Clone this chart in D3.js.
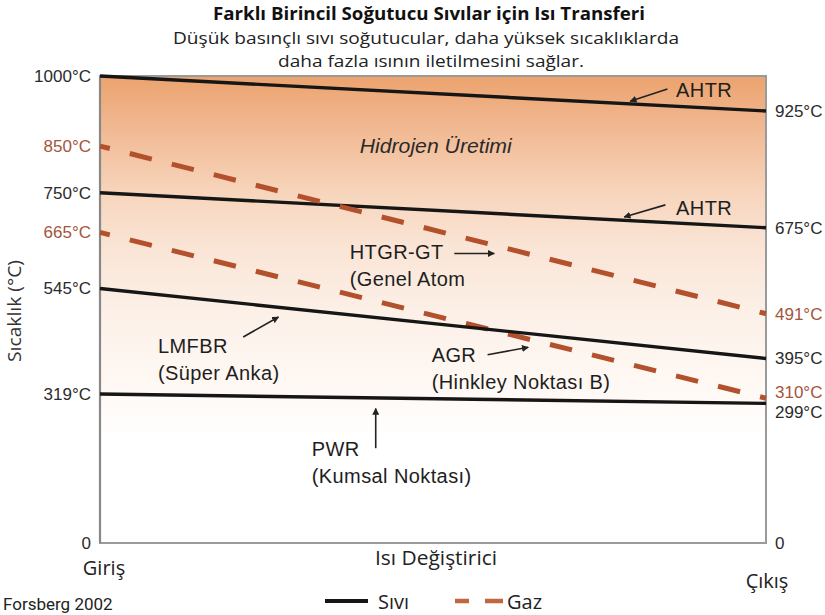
<!DOCTYPE html>
<html>
<head>
<meta charset="utf-8">
<script src="https://cdn.jsdelivr.net/npm/d3@7"></script>
<style>
  body { margin: 0; background: #fff; }
  svg { display: block; }
</style>
</head>
<body>
<div id="chart"></div>
<script>
// heat exchanger ends
const stages = ["Giriş", "Çıkış"];

// one entry per reactor line
const reactors = ["AHTR", "AHTR", "HTGR-GT", "AGR", "LMFBR", "PWR"];
const inletC = [1000, 750, 850, 665, 545, 319];
const outletC = [925, 675, 491, 310, 395, 299];
const coolant = ["Sıvı", "Sıvı", "Gaz", "Gaz", "Sıvı", "Sıvı"];

const legendItems = ["Sıvı", "Gaz"];

const width = 825;
const height = 615;
const plot = { left: 100, right: 766, top: 76, bottom: 543 };

const liquidColor = "#161616";
const gasColor = "#b4512d";
const gasText = "#a4553c";

const svg = d3.select("#chart")
    .append("svg")
    .attr("width", width)
    .attr("height", height)
    .style("font-family", "'Liberation Sans', Arial, sans-serif");

const x = d3.scalePoint().domain(stages).range([plot.left, plot.right]);
const xf = d3.scaleLinear().domain([0, 1]).range([plot.left, plot.right]); // position along exchanger
const y = d3.scaleLinear().domain([0, 1000]).range([plot.bottom, plot.top]);

const defs = svg.append("defs");

// warm background, fading out towards lower temperatures
const grad = defs.append("linearGradient")
    .attr("id", "heat")
    .attr("gradientUnits", "userSpaceOnUse")
    .attr("x1", 0).attr("x2", 0)
    .attr("y1", y(1000)).attr("y2", y(0));
[[0, "#eca36e"], [0.07, "#efb085"], [0.25, "#f7d5bc"], [0.37, "#fae5d6"],
 [0.52, "#fcf1e9"], [0.68, "#fff9f5"], [0.78, "#ffffff"]].forEach(s => {
    grad.append("stop").attr("offset", s[0]).attr("stop-color", s[1]);
});

defs.append("marker")
    .attr("id", "arrow")
    .attr("viewBox", "0 0 10 10")
    .attr("refX", 9).attr("refY", 5)
    .attr("markerWidth", 7).attr("markerHeight", 7)
    .attr("markerUnits", "userSpaceOnUse")
    .attr("orient", "auto")
    .append("path")
    .attr("d", "M0,0 L10,5 L0,10 Z")
    .attr("fill", "#222");

svg.append("rect")
    .attr("x", plot.left).attr("y", plot.top)
    .attr("width", plot.right - plot.left)
    .attr("height", plot.bottom - plot.top)
    .attr("fill", "url(#heat)")
    .attr("stroke", "#9a9a9a")
    .attr("stroke-width", 2);

svg.append("line")
    .attr("x1", plot.left).attr("x2", plot.left)
    .attr("y1", plot.top).attr("y2", plot.bottom)
    .attr("stroke", "#888").attr("stroke-width", 2.2);

// title
svg.append("text")
    .attr("x", 429).attr("y", 20)
    .attr("text-anchor", "middle")
    .attr("textLength", 432).attr("lengthAdjust", "spacingAndGlyphs")
    .style("font-family", "'Open Sans', sans-serif")
    .style("font-weight", "bold").style("font-size", "17px")
    .attr("fill", "#111")
    .text("Farklı Birincil Soğutucu Sıvılar için Isı Transferi");

svg.append("text")
    .attr("x", 426).attr("y", 44)
    .attr("text-anchor", "middle")
    .attr("textLength", 506).attr("lengthAdjust", "spacingAndGlyphs")
    .style("font-family", "'Open Sans', sans-serif").style("font-size", "16.5px")
    .attr("fill", "#222")
    .text("Düşük basınçlı sıvı soğutucular, daha yüksek sıcaklıklarda");

svg.append("text")
    .attr("x", 431).attr("y", 67)
    .attr("text-anchor", "middle")
    .attr("textLength", 306).attr("lengthAdjust", "spacingAndGlyphs")
    .style("font-family", "'Open Sans', sans-serif").style("font-size", "16.5px")
    .attr("fill", "#222")
    .text("daha fazla ısının iletilmesini sağlar.");

// lines
const line = d3.line()
    .x((d, i) => x(stages[i]))
    .y(d => y(d));

const series = reactors.map((r, i) => ({ name: r, values: [inletC[i], outletC[i]], type: coolant[i] }));

svg.append("g")
    .selectAll("path")
    .data(series)
    .enter().append("path")
    .attr("d", d => line(d.values))
    .attr("fill", "none")
    .attr("stroke", d => d.type === "Gaz" ? gasColor : liquidColor)
    .attr("stroke-width", d => d.type === "Gaz" ? 5 : 3.4)
    .attr("stroke-dasharray", d => d.type === "Gaz" ? "22.7,20.6" : null)
    .attr("stroke-dashoffset", d => d.type === "Gaz" ? 12.6 : null);

// axes
const fmt = d => d === 0 ? "0" : d + "°C";
const gasTemps = new Set(series.filter(s => s.type === "Gaz").flatMap(s => s.values));

const leftAxis = svg.append("g")
    .attr("transform", `translate(${plot.left},0)`)
    .call(d3.axisLeft(y).tickValues([0, ...inletC]).tickSize(0).tickPadding(9).tickFormat(fmt));

const rightAxis = svg.append("g")
    .attr("transform", `translate(${plot.right},0)`)
    .call(d3.axisRight(y).tickValues([0, ...outletC]).tickSize(0).tickPadding(9).tickFormat(fmt));

[leftAxis, rightAxis].forEach(ax => {
    ax.select(".domain").remove();
    ax.selectAll("text")
        .style("font-size", "17px")
        .style("font-family", "'Liberation Sans', Arial, sans-serif")
        .attr("fill", d => gasTemps.has(d) ? gasText : "#2b2b2b");
});

// spread right-side labels that sit too close (310 / 299)
const minGap = 19.5;
const rTicks = rightAxis.selectAll(".tick").nodes()
    .map(n => ({ n, yy: y(d3.select(n).datum()) }))
    .sort((a, b) => a.yy - b.yy);
for (let i = 1; i < rTicks.length; i++) {
    const a = rTicks[i - 1], b = rTicks[i];
    const gap = b.yy - a.yy;
    if (gap < minGap) {
        const up = Math.min(6, minGap - gap);
        const down = minGap - gap - up;
        d3.select(a.n).select("text").attr("dy", null).attr("y", -up).attr("dominant-baseline", "central");
        d3.select(b.n).select("text").attr("dy", null).attr("y", down).attr("dominant-baseline", "central");
        a.yy -= up; b.yy += down;
    }
}

svg.append("text")
    .attr("transform", "translate(21,311) rotate(-90)")
    .attr("text-anchor", "middle")
    .attr("textLength", 102).attr("lengthAdjust", "spacingAndGlyphs")
    .style("font-family", "'Open Sans', sans-serif").style("font-size", "18px")
    .attr("fill", "#333")
    .text("Sıcaklık (°C)");

// x labels
svg.append("text")
    .attr("x", 436).attr("y", 565)
    .attr("text-anchor", "middle")
    .attr("textLength", 122).attr("lengthAdjust", "spacingAndGlyphs")
    .style("font-family", "'Open Sans', sans-serif").style("font-size", "20px")
    .attr("fill", "#222")
    .text("Isı Değiştirici");

svg.selectAll(".stage")
    .data(stages)
    .enter().append("text")
    .attr("class", "stage")
    .attr("x", d => x(d) + (d === stages[0] ? 4 : 1))
    .attr("y", (d, i) => i === 0 ? 575 : 588)
    .attr("text-anchor", "middle")
    .style("font-family", "'Open Sans', sans-serif").style("font-size", "20px")
    .attr("fill", "#222")
    .text(d => d);

// annotations: position along exchanger (0..1) and temperature
const notes = [
    { lines: ["AHTR"], at: [0.865, 955], arrow: [[0.852, 972], [0.796, 946]] },
    { lines: ["AHTR"], at: [0.865, 702], arrow: [[0.849, 724], [0.787, 698]] },
    { lines: ["HTGR-GT", "(Genel Atom"], at: [0.375, 608], arrow: [[0.532, 620], [0.592, 620]] },
    { lines: ["LMFBR", "(Süper Anka)"], at: [0.087, 407], arrow: [[0.215, 441], [0.268, 484]] },
    { lines: ["AGR", "(Hinkley Noktası B)"], at: [0.498, 388], arrow: [[0.582, 403], [0.643, 419]] },
    { lines: ["PWR", "(Kumsal Noktası)"], at: [0.318, 186], arrow: [[0.414, 203], [0.414, 288]] }
];

const noteG = svg.append("g");
notes.forEach(nt => {
    const t = noteG.append("text")
        .attr("x", xf(nt.at[0])).attr("y", y(nt.at[1]))
        .style("font-size", "20px").style("letter-spacing", "0.4px")
        .attr("fill", "#1e1e1e");
    nt.lines.forEach((l, i) => {
        t.append("tspan")
            .attr("x", xf(nt.at[0]))
            .attr("dy", i === 0 ? 0 : 27)
            .text(l);
    });
    noteG.append("line")
        .attr("x1", xf(nt.arrow[0][0])).attr("y1", y(nt.arrow[0][1]))
        .attr("x2", xf(nt.arrow[1][0])).attr("y2", y(nt.arrow[1][1]))
        .attr("stroke", "#222").attr("stroke-width", 1.6)
        .attr("marker-end", "url(#arrow)");
});

svg.append("text")
    .attr("x", xf(0.39)).attr("y", y(835))
    .attr("textLength", 152).attr("lengthAdjust", "spacingAndGlyphs")
    .style("font-size", "19.5px").style("font-style", "italic")
    .attr("fill", "#2a2a2a")
    .text("Hidrojen Üretimi");

// source + legend
svg.append("text")
    .attr("x", 3).attr("y", 610)
    .style("font-family", "Roboto, 'Liberation Sans', sans-serif").style("font-size", "17px")
    .attr("fill", "#222")
    .text("Forsberg 2002");

const legend = svg.append("g").attr("transform", "translate(325,601)");
legendItems.forEach((name, i) => {
    const g = legend.append("g").attr("transform", `translate(${i * 130},0)`);
    g.append("line")
        .attr("x1", 0).attr("x2", i === 0 ? 43 : 48)
        .attr("stroke", name === "Gaz" ? "#c0673f" : liquidColor)
        .attr("stroke-width", name === "Gaz" ? 4.5 : 4)
        .attr("stroke-dasharray", name === "Gaz" ? "14,16,18" : null);
    g.append("text")
        .attr("x", i === 0 ? 53 : 52).attr("y", 7.5)
        .style("font-family", "'Open Sans', sans-serif").style("font-size", "20px")
        .attr("fill", "#222")
        .text(name);
});
</script>
</body>
</html>
